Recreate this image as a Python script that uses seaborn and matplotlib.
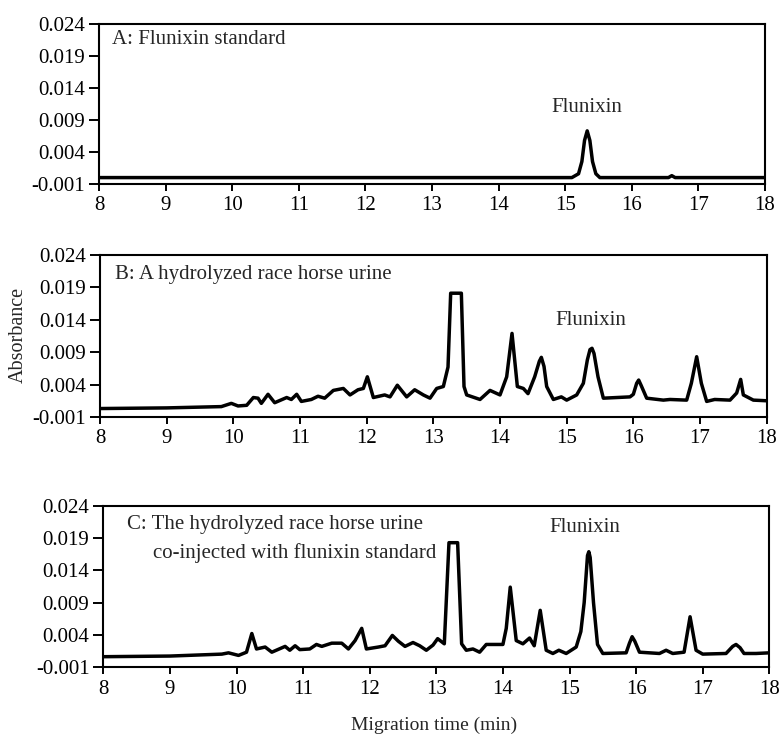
import numpy as np
import pandas as pd
import matplotlib
matplotlib.use("Agg")
import matplotlib.pyplot as plt
from matplotlib.ticker import FormatStrFormatter
import seaborn as sns

# Electropherograms (migration time in min, absorbance)
time_a = [8.0, 15.10, 15.20, 15.25, 15.29, 15.33, 15.37, 15.41, 15.46, 15.52,
          16.55, 16.60, 16.65, 18.0]
abs_a = [0.0, 0.0, 0.0006, 0.0025, 0.0058, 0.0073, 0.0058, 0.0025, 0.0006, 0.0,
         0.0, 0.0003, 0.0, 0.0]

time_b = [8.0, 9.0, 9.82, 9.97, 10.07, 10.2, 10.3, 10.37, 10.42, 10.52, 10.62,
          10.8, 10.87, 10.95, 11.02, 11.17, 11.27, 11.37, 11.5, 11.65, 11.75,
          11.87, 11.95, 12.01, 12.1, 12.27, 12.35, 12.46, 12.6, 12.72, 12.85,
          12.95, 13.05, 13.15, 13.22, 13.26, 13.42, 13.46, 13.5, 13.7, 13.85,
          14.0, 14.1, 14.18, 14.26, 14.35, 14.42, 14.52, 14.59, 14.62, 14.66,
          14.7, 14.8, 14.92, 15.0, 15.15, 15.25, 15.31, 15.35, 15.38, 15.41,
          15.47, 15.55, 15.95, 16.0, 16.05, 16.08, 16.12, 16.2, 16.45, 16.55,
          16.8, 16.87, 16.95, 17.02, 17.1, 17.22, 17.45, 17.55, 17.61, 17.65,
          17.8, 18.0]
abs_b = [0.0003, 0.0004, 0.0006, 0.0011, 0.0007, 0.0008, 0.0020, 0.0019, 0.0011,
         0.0025, 0.0012, 0.0020, 0.0017, 0.0025, 0.0014, 0.0017, 0.0022, 0.0019,
         0.0031, 0.0034, 0.0024, 0.0032, 0.0034, 0.0052, 0.0020, 0.0024, 0.0021,
         0.0039, 0.0021, 0.0032, 0.0024, 0.0019, 0.0034, 0.0037, 0.0067, 0.0181,
         0.0181, 0.0037, 0.0024, 0.0017, 0.0031, 0.0024, 0.0052, 0.0119, 0.0037,
         0.0034, 0.0026, 0.0052, 0.0076, 0.0082, 0.0068, 0.0037, 0.0017, 0.0021,
         0.0016, 0.0024, 0.0042, 0.0078, 0.0094, 0.0096, 0.0088, 0.0052, 0.0019,
         0.0021, 0.0025, 0.0042, 0.0047, 0.0038, 0.0019, 0.0016, 0.0017, 0.0016,
         0.0042, 0.0083, 0.0042, 0.0014, 0.0017, 0.0016, 0.0027, 0.0048, 0.0024,
         0.0016, 0.0015]

time_c = [8.0, 9.0, 9.78, 9.88, 10.03, 10.15, 10.23, 10.3, 10.43, 10.53, 10.73,
          10.8, 10.88, 10.95, 11.1, 11.2, 11.28, 11.43, 11.58, 11.68, 11.78,
          11.88, 11.95, 12.13, 12.23, 12.34, 12.43, 12.53, 12.65, 12.75, 12.85,
          12.95, 13.02, 13.12, 13.19, 13.32, 13.38, 13.45, 13.55, 13.65, 13.75,
          14.0, 14.05, 14.11, 14.2, 14.3, 14.4, 14.47, 14.56, 14.65, 14.75,
          14.84, 14.95, 15.1, 15.17, 15.22, 15.27, 15.29, 15.31, 15.36, 15.42,
          15.5, 15.85, 15.9, 15.94, 15.98, 16.05, 16.35, 16.45, 16.55, 16.72,
          16.81, 16.9, 17.0, 17.35, 17.45, 17.5, 17.56, 17.62, 17.8, 18.0]
abs_c = [0.0006, 0.0007, 0.0010, 0.0012, 0.0008, 0.0013, 0.0042, 0.0018, 0.0021,
         0.0013, 0.0022, 0.0016, 0.0023, 0.0017, 0.0018, 0.0025, 0.0022, 0.0027,
         0.0027, 0.0018, 0.0031, 0.0050, 0.0018, 0.0021, 0.0023, 0.0039, 0.0030,
         0.0022, 0.0028, 0.0023, 0.0016, 0.0024, 0.0034, 0.0026, 0.0183, 0.0183,
         0.0026, 0.0016, 0.0018, 0.0013, 0.0025, 0.0025, 0.0050, 0.0114, 0.0031,
         0.0026, 0.0035, 0.0023, 0.0078, 0.0016, 0.0011, 0.0016, 0.0011, 0.0021,
         0.0045, 0.0090, 0.0163, 0.0169, 0.0160, 0.0090, 0.0025, 0.0011, 0.0012,
         0.0027, 0.0037, 0.0030, 0.0013, 0.0011, 0.0016, 0.0011, 0.0013, 0.0068,
         0.0016, 0.0010, 0.0011, 0.0022, 0.0025, 0.0020, 0.0011, 0.0011, 0.0012]

panel_labels = ["A: Flunixin standard",
                "B: A hydrolyzed race horse urine",
                "C: The hydrolyzed race horse urine"]
panel_label2 = "co-injected with flunixin standard"
peak_name = "Flunixin"
peak_pos = [(15.33, 0.0110), (15.36, 0.0139), (15.23, 0.0207)]

y_ticks = [-0.001, 0.004, 0.009, 0.014, 0.019, 0.024]
x_ticks = list(range(8, 19))

df = pd.concat([
    pd.DataFrame({"panel": "A", "time": time_a, "absorbance": abs_a}),
    pd.DataFrame({"panel": "B", "time": time_b, "absorbance": abs_b}),
    pd.DataFrame({"panel": "C", "time": time_c, "absorbance": abs_c}),
])

sns.set_style("ticks")
plt.rcParams["font.family"] = ["Liberation Serif", "DejaVu Serif"]
plt.rcParams["axes.linewidth"] = 1.5
plt.rcParams["xtick.major.width"] = 1.4
plt.rcParams["ytick.major.width"] = 1.4

fig = plt.figure(figsize=(7.82, 7.38), dpi=100)
positions = [
    [0.1266, 0.7507, 0.8517, 0.2168],
    [0.1279, 0.4350, 0.8525, 0.2195],
    [0.1321, 0.0962, 0.8517, 0.2182],
]
label_xy = [(0.0195, 0.90), (0.0225, 0.877), (0.035, 0.882)]

for i, panel in enumerate(["A", "B", "C"]):
    ax = fig.add_axes(positions[i])
    sub = df[df["panel"] == panel]
    sns.lineplot(data=sub, x="time", y="absorbance", ax=ax, color="black",
                 linewidth=2.5, sort=False, estimator=None,
                 solid_joinstyle="round", solid_capstyle="round")
    ax.set_xlim(8, 18)
    ax.set_ylim(-0.001, 0.024)
    ax.set_xticks(x_ticks)
    ax.set_yticks(y_ticks)
    ax.yaxis.set_major_formatter(FormatStrFormatter("%.3f"))
    ax.tick_params(axis="x", labelsize=15, length=5, pad=4, colors="black")
    ax.tick_params(axis="y", labelsize=15, length=7, pad=3, colors="black")
    ax.set_xlabel("")
    ax.set_ylabel("")
    for s in ax.spines.values():
        s.set_visible(True)
        s.set_color("black")
    ax.text(label_xy[i][0], label_xy[i][1], panel_labels[i], transform=ax.transAxes,
            fontsize=15, ha="left", va="center")
    if panel == "C":
        ax.text(0.075, 0.706, panel_label2, transform=ax.transAxes,
                fontsize=15, ha="left", va="center")
    ax.text(peak_pos[i][0], peak_pos[i][1], peak_name, fontsize=15,
            ha="center", va="center")

fig.text(0.0237, 0.546, "Absorbance", rotation=90, fontsize=14.5,
         ha="center", va="center")
fig.text(0.555, 0.0176, "Migration time (min)", fontsize=14,
         ha="center", va="center")

fig.savefig("out.png", dpi=100)
